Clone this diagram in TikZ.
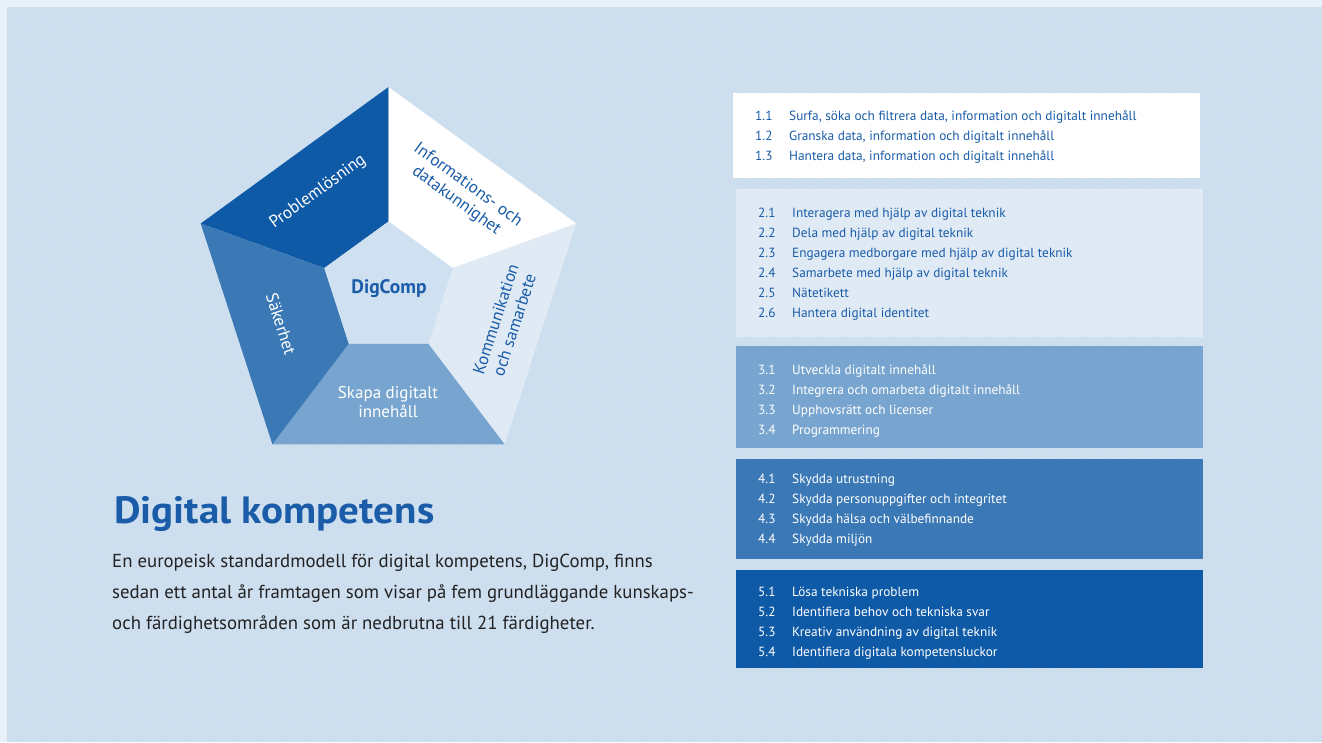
\documentclass[tikz,border=0pt]{standalone}
\usepackage{fontspec}
\usetikzlibrary{patterns}
\setmainfont{PT Sans}
\newfontfamily\headfont[FakeStretch=1.08]{PT Sans}
\definecolor{rim}{HTML}{E8F0F8}
\definecolor{bg}{HTML}{CDDEEF}
\definecolor{core}{HTML}{CFE0F1}
\definecolor{dkblue}{HTML}{0F5AA6}
\definecolor{mdblue}{HTML}{3A78B6}
\definecolor{ltblue}{HTML}{78A5CF}
\definecolor{paleblue}{HTML}{DFEAF5}
\definecolor{txtblue}{HTML}{1A5CA8}
\definecolor{bodygray}{HTML}{222222}
\newcommand{\itm}[2]{\makebox[34pt][l]{#1}#2}
\pgfdeclarepatternformonly{speckle}{\pgfpointorigin}{\pgfpoint{12.3pt}{12.3pt}}{\pgfpoint{12.3pt}{12.3pt}}{
  \pgfpathcircle{\pgfpoint{3pt}{3pt}}{0.7pt}
  \pgfpathcircle{\pgfpoint{9.15pt}{9.15pt}}{0.7pt}
  \pgfusepath{fill}
}
\begin{document}
\begin{tikzpicture}[x=1pt,y=-1pt,
  seglabel/.style={font=\fontsize{17}{19.5}\selectfont, align=center, inner sep=0pt},
  listtext/.style={anchor=base west, align=left, inner sep=0pt, font=\fontsize{13.3}{20}\selectfont}]
\useasboundingbox (0,0) rectangle (1322,742);
% page and background
\fill[rim] (0,0) rectangle (1322,742);
\fill[bg] (7,7) rectangle (1322,742);
\fill[pattern=speckle, pattern color=white, opacity=.35] (7,7) rectangle (1322,742);
% pentagon corners
\coordinate (o1) at (388.5,87);
\coordinate (o2) at (576.3,223.5);
\coordinate (o3) at (504.6,444.3);
\coordinate (o4) at (272.4,444.3);
\coordinate (o5) at (200.7,223.5);
\coordinate (i1) at (388.5,221.5);
\coordinate (i2) at (452.7,268.1);
\coordinate (i3) at (428.2,343.6);
\coordinate (i4) at (348.8,343.6);
\coordinate (i5) at (324.3,268.1);
\fill[dkblue] (o5) -- (o1) -- (i1) -- (i5) -- cycle;
\fill[white] (o1) -- (o2) -- (i2) -- (i1) -- cycle;
\fill[paleblue] (o2) -- (o3) -- (i3) -- (i2) -- cycle;
\fill[ltblue] (o3) -- (o4) -- (i4) -- (i3) -- cycle;
\fill[mdblue] (o4) -- (o5) -- (i5) -- (i4) -- cycle;
\fill[core] (i1) -- (i2) -- (i3) -- (i4) -- (i5) -- cycle;
\node[seglabel, text=white, rotate=36] (prob) at (318,192) {Problemlösning};
\node[seglabel, text=txtblue, rotate=-36] (info) at (462,193) {Informations- och\\datakunnighet};
\node[seglabel, text=txtblue, rotate=72] (komm) at (505,322) {Kommunikation\\och samarbete};
\node[seglabel, text=white, rotate=-72] (sak) at (281,324) {Säkerhet};
\node[seglabel, text=white] (skapa) at (388,402) {Skapa digitalt\\innehåll};
\node[seglabel, text=txtblue, font=\fontsize{19.5}{20}\selectfont\bfseries] (dig) at (389,289) {DigComp};
% heading and intro
\node[anchor=base west, inner sep=0pt, text=txtblue, font=\fontsize{38}{40}\headfont\bfseries] (title) at (114,523) {Digital kompetens};
\node[anchor=base west, align=left, inner sep=0pt, text=bodygray, font=\fontsize{18.8}{31}\selectfont] (intro) at (112,629)
  {En europeisk standardmodell för digital kompetens, DigComp, finns\\
   sedan ett antal år framtagen som visar på fem grundläggande kunskaps-\\
   och färdighetsområden som är nedbrutna till 21 färdigheter.};
% list boxes
\fill[white] (733,93) rectangle (1200,178);
\fill[paleblue] (736,189) rectangle (1203,337);
\fill[ltblue] (736,346) rectangle (1203,448);
\fill[mdblue] (736,459) rectangle (1203,559);
\fill[dkblue] (736,570) rectangle (1203,668);
\node[listtext, text=txtblue] (list1) at (755,160)
  {\itm{1.1}{Surfa, söka och filtrera data, information och digitalt innehåll}\\
   \itm{1.2}{Granska data, information och digitalt innehåll}\\
   \itm{1.3}{Hantera data, information och digitalt innehåll}};
\node[listtext, text=txtblue] (list2) at (758,317)
  {\itm{2.1}{Interagera med hjälp av digital teknik}\\
   \itm{2.2}{Dela med hjälp av digital teknik}\\
   \itm{2.3}{Engagera medborgare med hjälp av digital teknik}\\
   \itm{2.4}{Samarbete med hjälp av digital teknik}\\
   \itm{2.5}{Nätetikett}\\
   \itm{2.6}{Hantera digital identitet}};
\node[listtext, text=white] (list3) at (758,434)
  {\itm{3.1}{Utveckla digitalt innehåll}\\
   \itm{3.2}{Integrera och omarbeta digitalt innehåll}\\
   \itm{3.3}{Upphovsrätt och licenser}\\
   \itm{3.4}{Programmering}};
\node[listtext, text=white] (list4) at (758,543)
  {\itm{4.1}{Skydda utrustning}\\
   \itm{4.2}{Skydda personuppgifter och integritet}\\
   \itm{4.3}{Skydda hälsa och välbefinnande}\\
   \itm{4.4}{Skydda miljön}};
\node[listtext, text=white] (list5) at (758,656)
  {\itm{5.1}{Lösa tekniska problem}\\
   \itm{5.2}{Identifiera behov och tekniska svar}\\
   \itm{5.3}{Kreativ användning av digital teknik}\\
   \itm{5.4}{Identifiera digitala kompetensluckor}};
\end{tikzpicture}
\end{document}
